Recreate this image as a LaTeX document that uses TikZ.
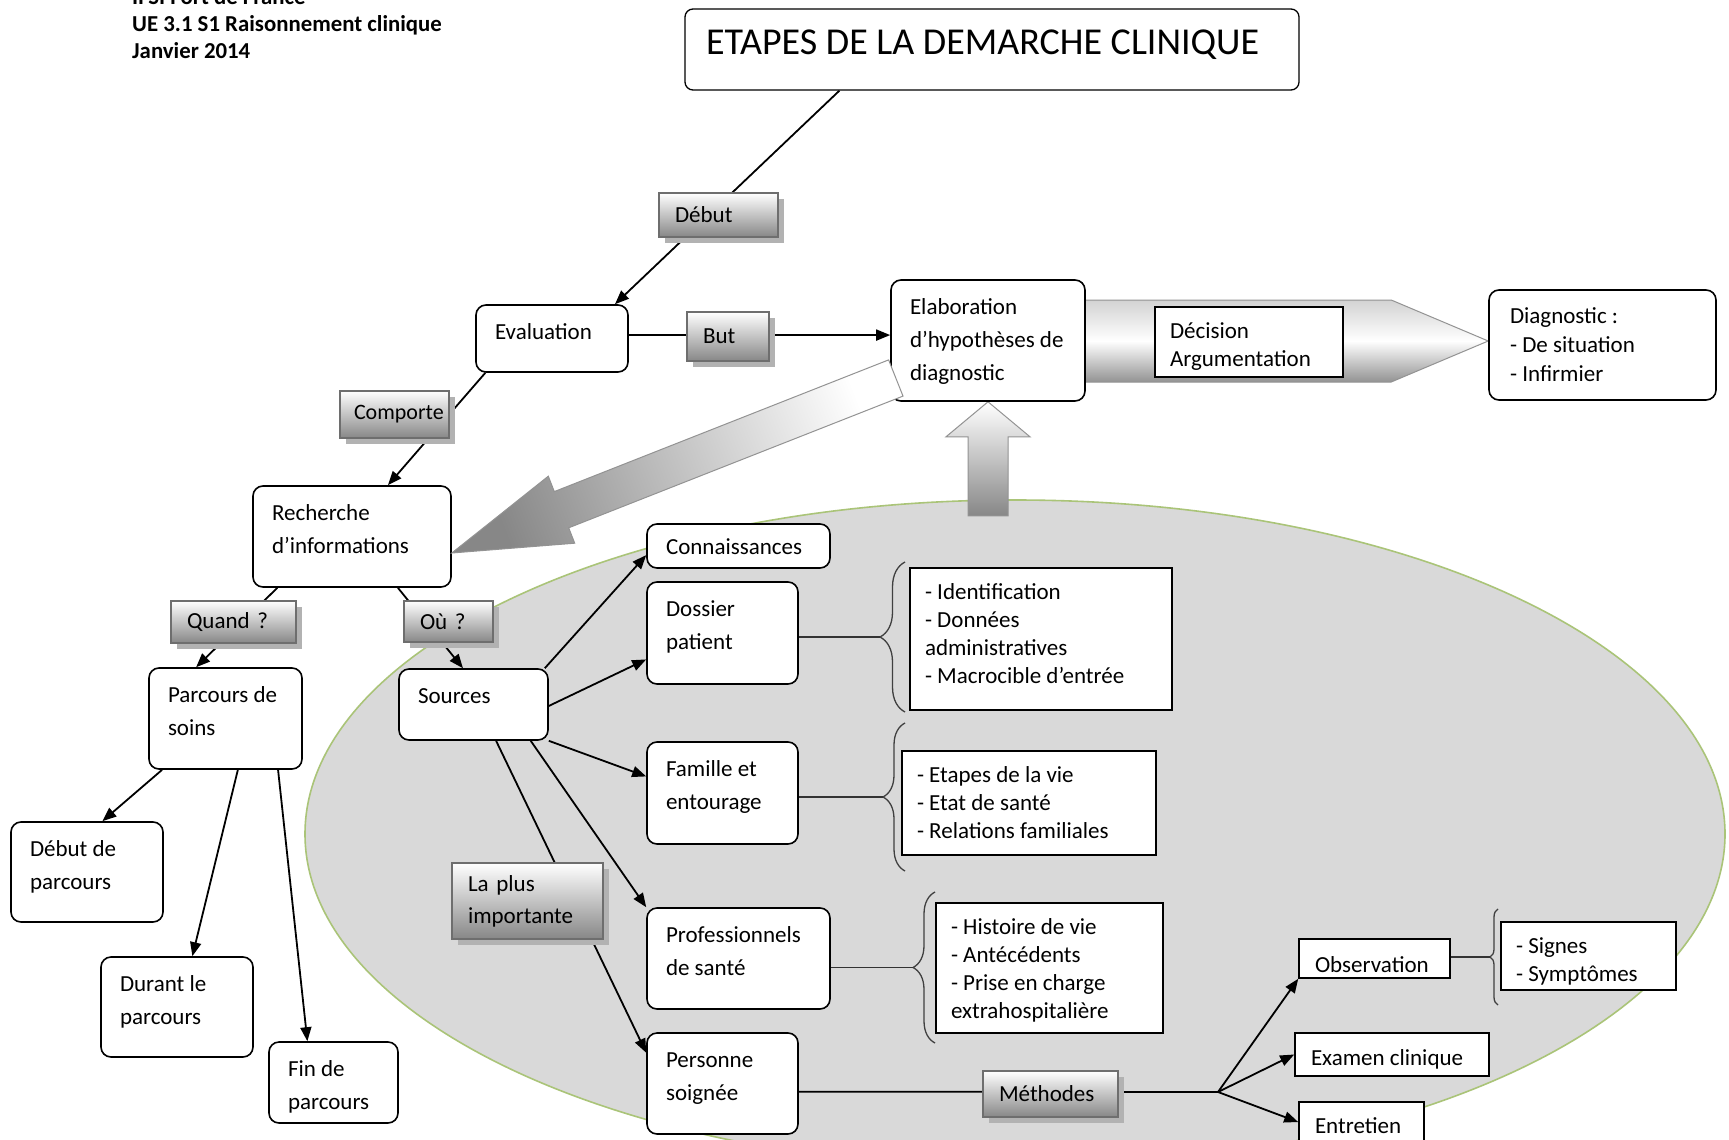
\documentclass[tikz,border=0pt]{standalone}
\usepackage{fontspec}
\setmainfont{Carlito}
\usetikzlibrary{arrows.meta,shadows,calc,decorations.pathreplacing}
\pgfdeclarelayer{bg}\pgfdeclarelayer{fg}\pgfdeclarelayer{top}
\pgfsetlayers{bg,main,fg,top}
\definecolor{ellfill}{RGB}{217,217,217}
\definecolor{ellline}{RGB}{170,196,120}
\definecolor{lblgray}{RGB}{135,135,135}
\definecolor{lbledge}{RGB}{110,110,110}
\definecolor{shadowgray}{RGB}{178,178,178}
\newcommand\bt[3]{\parbox[c][#2pt][t]{#1pt}{\raggedright\rule{0pt}{\dimexpr0.7\baselineskip+3.5pt\relax}#3}}
\tikzset{
  rbox/.style={draw=black, line width=1.6pt, rounded corners=10pt, fill=white,
    inner xsep=19pt, inner ysep=8pt, font=\fontsize{23}{33}\selectfont},
  sbox/.style={draw=black, line width=1.6pt, fill=white,
    inner xsep=15pt, inner ysep=8pt, font=\fontsize{23}{28}\selectfont},
  lbl/.style={draw=lbledge, line width=1.2pt, top color=white, bottom color=lblgray,
    drop shadow={shadow xshift=6pt, shadow yshift=-6pt, fill=shadowgray, opacity=1},
    align=left, inner xsep=16pt, inner ysep=0pt, font=\fontsize{23}{32}\selectfont},
  conn/.style={line width=1.8pt, draw=black},
  arr/.style={conn, -{Triangle[length=14pt,width=11pt]}},
  thinln/.style={line width=1.4pt, draw=black!80},
  brc/.style={draw=black!75, line width=1.3pt, decorate, decoration={brace, amplitude=#1}},
  blockarrow/.style={draw=gray!85, line width=1pt},
}
\begin{document}
\begin{tikzpicture}[x=1pt,y=-1pt]
\useasboundingbox (0,0) rectangle (1729,1140);
\begin{pgfonlayer}{bg}
  \fill[white] (0,0) rectangle (1729,1140);
  \path[fill=ellfill, draw=ellline, line width=1.6pt] (1015,834) ellipse [x radius=710pt, y radius=334pt];
\end{pgfonlayer}

\begin{pgfonlayer}{fg}
  % header
  \node[anchor=base west, align=left, inner sep=0pt, font=\bfseries\fontsize{22.8}{27}\selectfont] (hdr) at (132,59)
    {IFSI Fort de France\\UE 3.1 S1 Raisonnement clinique\\Janvier 2014};
  % title
  \node[rbox, rounded corners=8pt, line width=1.3pt, inner xsep=21pt, inner ysep=9.5pt, font=\fontsize{38}{46}\selectfont]
    (title) at (992,49.5) {\bt{572}{62}{ETAPES DE LA DEMARCHE CLINIQUE}};
  % rounded boxes
  \node[rbox] (eval) at (552,338.5) {\bt{114}{51}{Evaluation}};
  \node[rbox] (elab) at (988,340.5) {\bt{156}{105}{Elaboration\\d’hypothèses de\\diagnostic}};
  \node[rbox] (rech) at (352,536.5) {\bt{160}{85}{Recherche\\d’informations}};
  \node[rbox] (src) at (473.5,704.5) {\bt{111}{55}{Sources}};
  \node[rbox, inner ysep=4pt] (conn) at (738.5,546) {\bt{145}{36}{Connaissances}};
  \node[rbox] (dos) at (722.5,633) {\bt{113}{86}{Dossier\\patient}};
  \node[rbox] (fam) at (722.5,793) {\bt{113}{86}{Famille et\\entourage}};
  \node[rbox] (prof) at (738.5,958.5) {\bt{145}{85}{Professionnels\\de santé}};
  \node[rbox] (pers) at (722.5,1083.5) {\bt{113}{85}{Personne\\soignée}};
  \node[rbox] (parc) at (225.5,718.5) {\bt{115}{85}{Parcours de\\soins}};
  \node[rbox] (debp) at (87,872) {\bt{114}{84}{Début de\\parcours}};
  \node[rbox] (dur) at (177,1007) {\bt{114}{84}{Durant le\\parcours}};
  \node[rbox] (fin) at (333.5,1082.5) {\bt{91}{65}{Fin de\\parcours}};
  \node[rbox, inner xsep=21pt, inner ysep=10pt, font=\fontsize{23}{29}\selectfont] (diag) at (1602.5,345)
    {\bt{185}{90}{Diagnostic :\\- De situation\\- Infirmier}};
  % square boxes
  \node[sbox] (dec) at (1249,342) {\bt{158}{54}{Décision\\Argumentation}};
  \node[sbox] (idb) at (1041,639) {\bt{232}{126}{- Identification\\- Données\\administratives\\- Macrocible d’entrée}};
  \node[sbox] (etb) at (1029,803) {\bt{224}{88}{- Etapes de la vie\\- Etat de santé\\- Relations familiales}};
  \node[sbox] (hist) at (1049.5,968) {\bt{197}{114}{- Histoire de vie\\- Antécédents\\- Prise en charge\\extrahospitalière}};
  \node[sbox] (sig) at (1588.5,956) {\bt{145}{52}{- Signes\\- Symptômes}};
  \node[sbox, inner xsep=16pt, inner ysep=10.4pt] (obs) at (1374.5,958.5) {\bt{119}{18.2}{Observation}};
  \node[sbox, inner xsep=16pt, inner ysep=9.4pt] (exam) at (1392,1054.5) {\bt{162}{24.2}{Examen clinique}};
  \node[sbox, inner xsep=16pt, inner ysep=8.4pt] (entr) at (1361.5,1126) {\bt{93}{31.2}{Entretien}};
  % labels
  \node[lbl, text width=87pt, minimum height=44pt] (debut) at (718.5,215) {Début};
  \node[lbl, text width=50pt, minimum height=49pt] (but) at (728,336.5) {But};
  \node[lbl, text width=81pt, minimum height=47pt, inner xsep=14pt, font=\fontsize{22}{32}\selectfont] (comp) at (394.5,414.5) {Comporte};
  \node[lbl, text width=93pt, minimum height=42pt] (quand) at (233.5,622) {Quand ?};
  \node[lbl, text width=57pt, minimum height=41pt] (ou) at (448.5,621.5) {Où ?};
  \node[lbl, text width=119pt, minimum height=76pt] (lpi) at (527.5,901) {La plus\\importante};
  \node[lbl, text width=103pt, minimum height=46pt] (meth) at (1050.5,1094) {Méthodes};
\end{pgfonlayer}

% big block arrow to diagnostic (under the boxes)
\path (elab.east) coordinate (ra0) (diag.west) coordinate (ra1);
\draw[blockarrow, top color=gray!35, bottom color=gray!85, middle color=white]
  ($(ra0)+(-6,-40.5)$) -- ($(ra1)+(-97,-45)$) -- ($(ra1)+(0,-4)$) -- ($(ra1)+(-97,37)$)
  -- ($(ra0)+(-6,41.5)$) -- cycle;

% up block arrow into elaboration
\coordinate (ua) at (elab.south);
\draw[blockarrow, top color=white, bottom color=lblgray]
  (ua) -- ($(ua)+(42,35)$) -- ($(ua)+(20,35)$) -- ($(ua)+(20,114)$) -- ($(ua)+(-20,114)$)
  -- ($(ua)+(-20,35)$) -- ($(ua)+(-42,35)$) -- cycle;

% diagonal block arrow to recherche (on top)
\begin{pgfonlayer}{top}
\coordinate (dtip) at ($(rech.east)+(0,16.5)$);
\draw[blockarrow, top color=white, bottom color=lblgray, shading angle=-68.5]
  (dtip) -- ($(dtip)+(96.5,-76.8)$) -- ($(dtip)+(102.5,-61.4)$) -- ($(dtip)+(436.8,-193.1)$)
  -- ($(dtip)+(451.2,-156.9)$) -- ($(dtip)+(116.9,-25.2)$) -- ($(dtip)+(122.9,-9.8)$) -- cycle;
\end{pgfonlayer}

% connectors
\coordinate (ee) at ($(eval.north east)!0.45!(eval.south east)$);
\draw[arr] ($(title.south west)!0.252!(title.south east)$) -- ($(eval.north west)!0.91!(eval.north east)$);
\draw[arr] (ee) -- (ee -| elab.west);
\draw[arr] ($(eval.south west)!0.066!(eval.south east)$) -- ($(rech.north west)!0.68!(rech.north east)$);
\draw[arr] ($(rech.south west)!0.126!(rech.south east)$) -- ($(parc.north west)!0.31!(parc.north east)$);
\draw[arr] ($(rech.south west)!0.73!(rech.south east)$) -- ($(src.north west)!0.43!(src.north east)$);

\draw[arr] ($(parc.south west)!0.09!(parc.south east)$) -- ($(debp.north west)!0.6!(debp.north east)$);
\draw[arr] ($(parc.south west)!0.58!(parc.south east)$) -- ($(dur.north west)!0.6!(dur.north east)$);
\draw[arr] ($(parc.south west)!0.84!(parc.south east)$) -- ($(fin.north west)!0.3!(fin.north east)$);

\draw[arr] ($(src.north east)+(-4,0)$) -- ($(conn.north west)!0.7!(conn.south west)$);
\draw[arr] ($(src.north east)!0.52!(src.south east)$) -- ($(dos.north west)!0.755!(dos.south west)$);
\draw[arr] (src.south east) -- ($(fam.north west)!0.34!(fam.south west)$);
\draw[arr] ($(src.south west)!0.88!(src.south east)$) -- (prof.north west);
\draw[arr] ($(src.south west)!0.65!(src.south east)$) -- ($(pers.north west)!0.2!(pers.south west)$);

% braces
\coordinate (t1) at (880,637);
\coordinate (t2) at (883,797);
\coordinate (t3) at (913,967.5);
\coordinate (t4) at (1490,957);
\draw[brc=25pt] (905,712) -- (905,562);
\draw[brc=22pt] (905,871) -- (905,723);
\draw[brc=22pt] (935,1043) -- (935,892);
\draw[brc=8pt] (1498,1005) -- (1498,909);
\draw[thinln] (dos.east |- t1) -- (t1);
\draw[thinln] (fam.east |- t2) -- (t2);
\draw[thinln] (prof.east |- t3) -- (t3);
\draw[thinln] (obs.east |- t4) -- (t4);

% methods
\coordinate (jn) at (1218,1092);
\draw[conn] ($(pers.north east)!0.58!(pers.south east)$) -- (jn);
\draw[arr] (jn) -- (obs.south west);
\draw[arr] (jn) -- (exam.west);
\draw[arr] (jn) -- ($(entr.north west)!0.42!(entr.south west)$);
\end{tikzpicture}
\end{document}
